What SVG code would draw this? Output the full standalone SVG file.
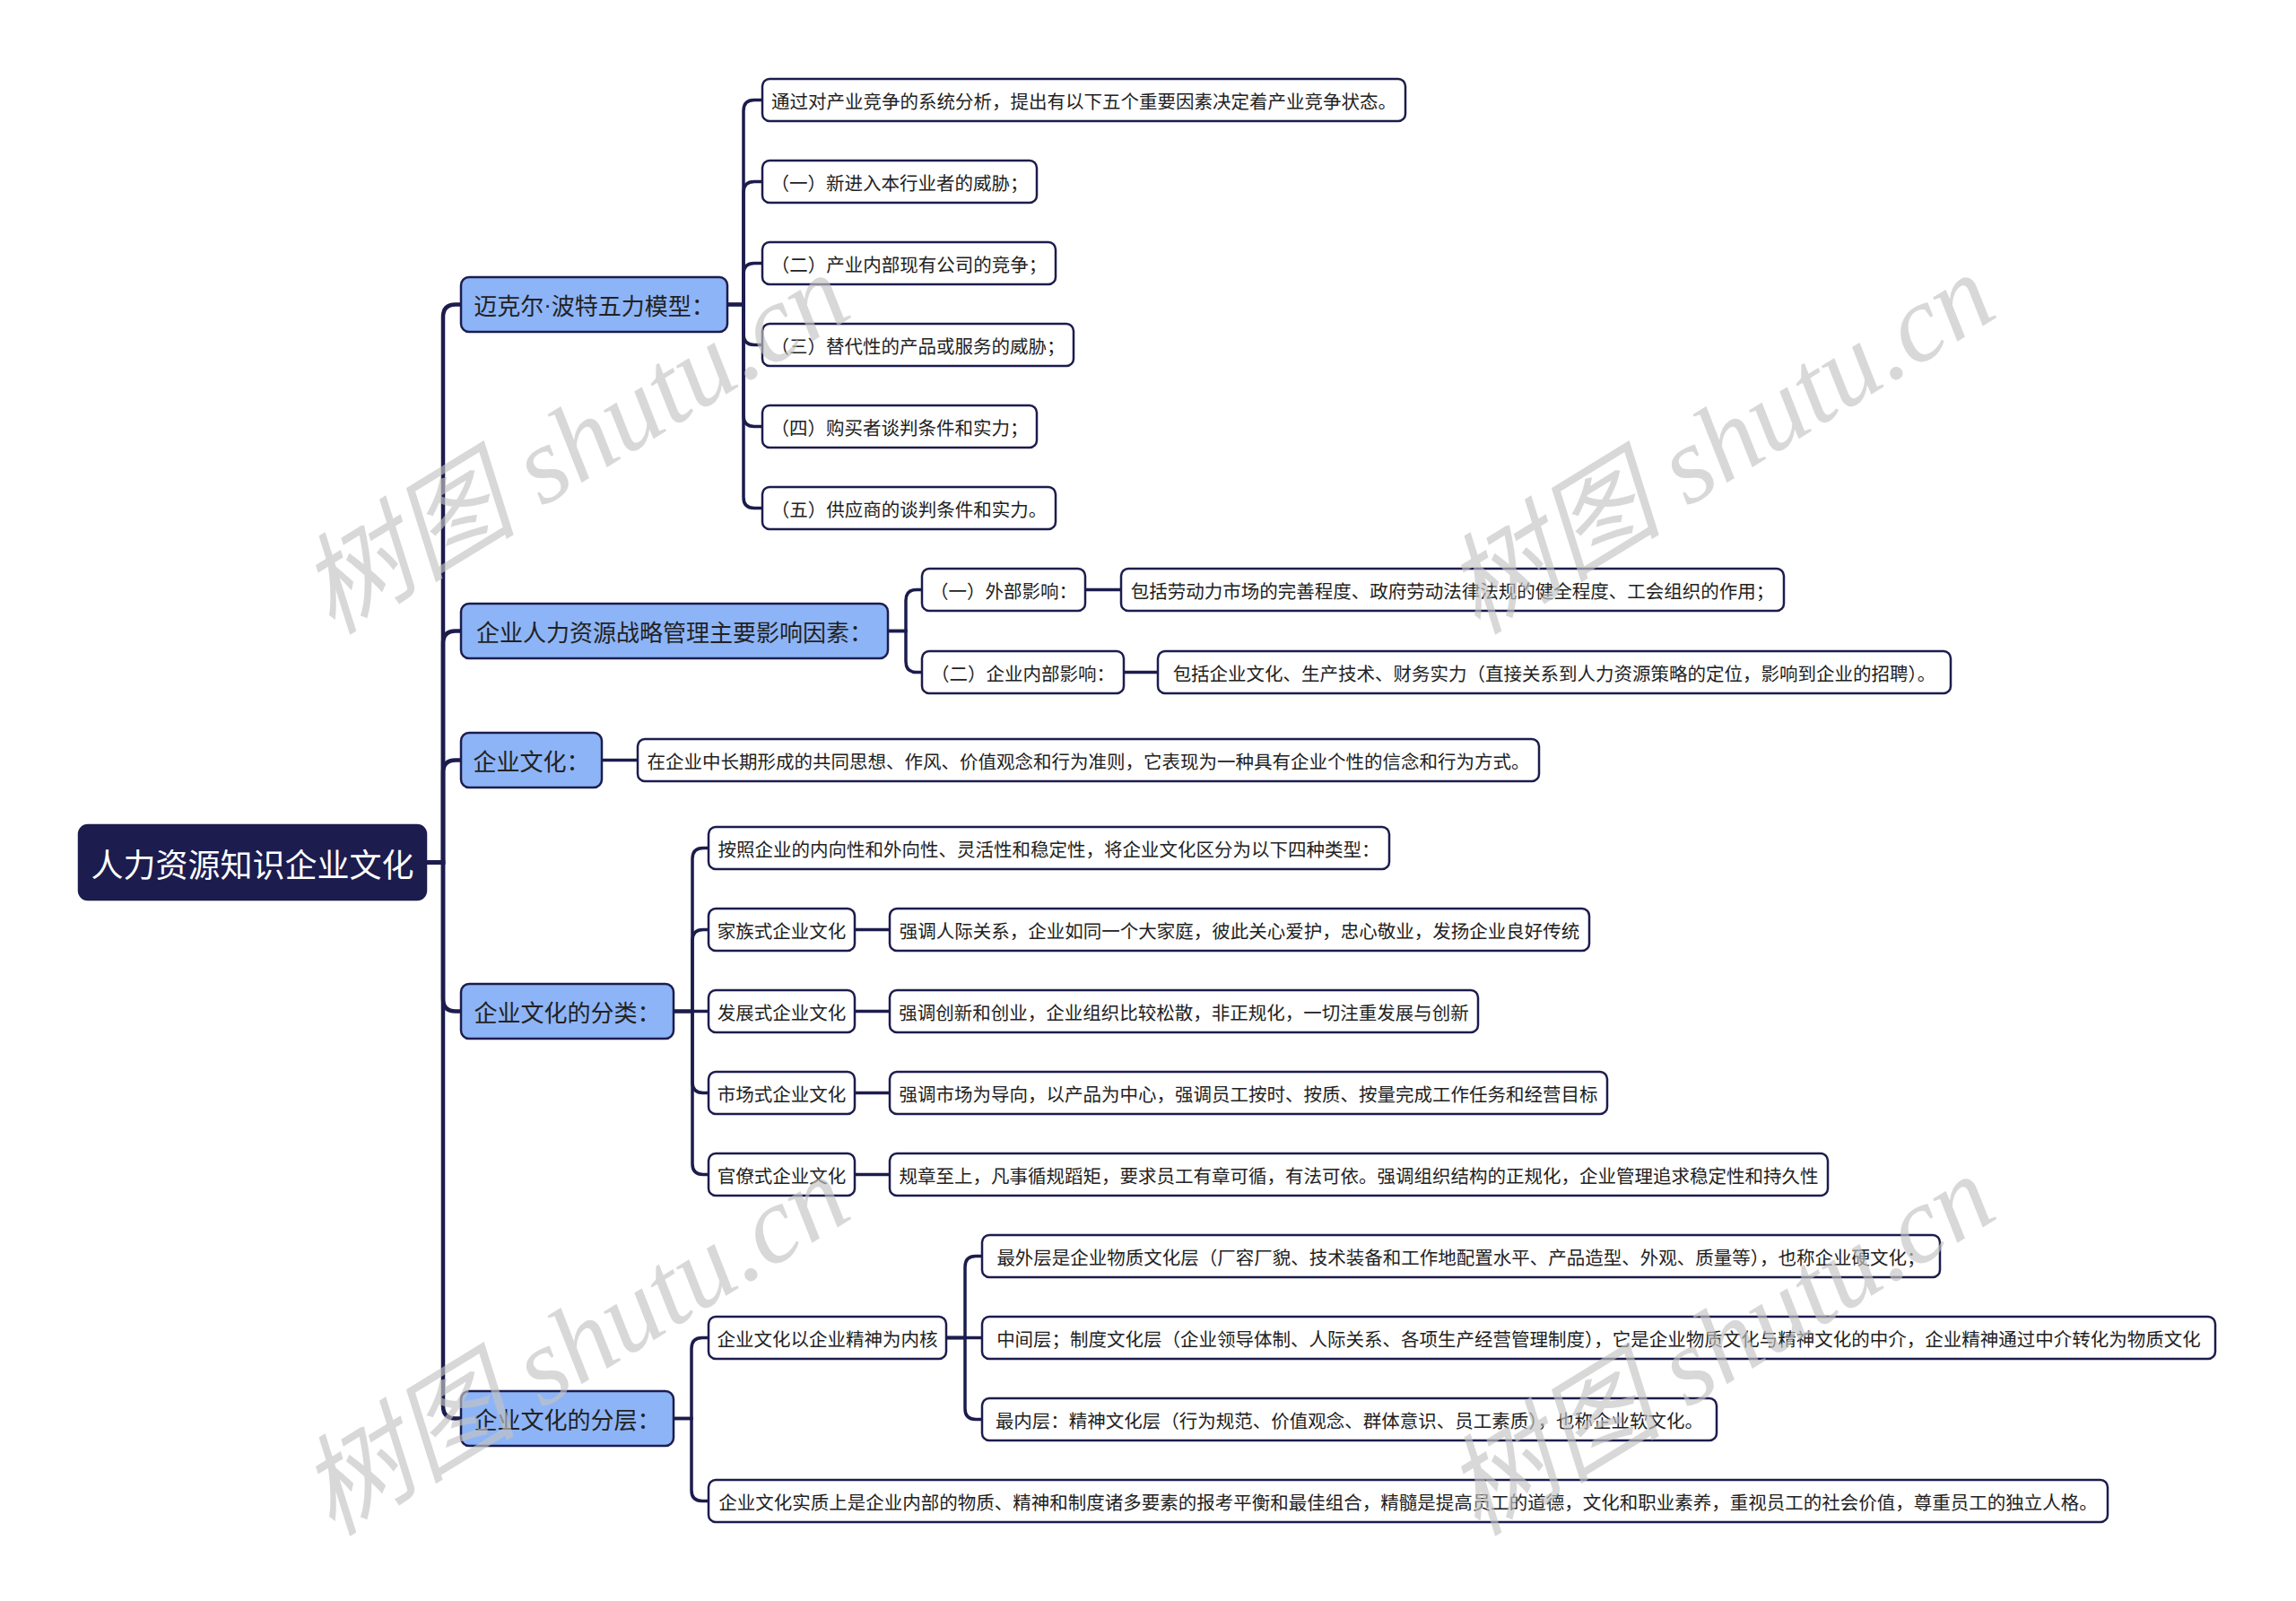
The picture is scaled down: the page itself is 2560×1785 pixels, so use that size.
<svg xmlns="http://www.w3.org/2000/svg" width="2560" height="1785" viewBox="0 0 2560 1785">
<style>
.bg{fill:#ffffff}
.root rect{fill:#1c1c4e;stroke:#1c1c4e;stroke-width:2.5}
.root text{fill:#ffffff;font-size:36px}
.l1 rect{fill:#8db4f7;stroke:#1c1c4e;stroke-width:2.5}
.l1 text{fill:#222222;font-size:26px}
.l2 rect{fill:#ffffff;stroke:#1c1c4e;stroke-width:2.5}
.l2 text{fill:#222222;font-size:20.5px}
text{font-family:"Noto Sans CJK SC","Noto Sans",sans-serif;text-anchor:middle;dominant-baseline:central}
.dot{font-family:"Liberation Sans",sans-serif}
.conn path{fill:none;stroke:#1c1c4e;stroke-width:3.5;stroke-linecap:round}
.conn .main{stroke-width:4.5}
.wm{fill:#c4c4c4;opacity:0.65;font-size:122px;font-style:italic;font-family:"Liberation Serif","Noto Sans CJK SC",serif;text-anchor:middle;dominant-baseline:alphabetic}
</style>
<rect class="bg" x="0" y="0" width="2560" height="1785"/>
<g id="connectors" class="conn">
<path class="main" d="M475 961.5 H494 V353.5 Q494 339.5 508 339.5 H514"/>
<path class="main" d="M475 961.5 H494 V717.5 Q494 703.5 508 703.5 H514"/>
<path class="main" d="M475 961.5 H494 V861.5 Q494 847.5 508 847.5 H514"/>
<path class="main" d="M475 961.5 H494 V1113.5 Q494 1127.5 508 1127.5 H514"/>
<path class="main" d="M475 961.5 H494 V1567.5 Q494 1581.5 508 1581.5 H514"/>
<path d="M811 339.5 H829 V123.5 Q829 111.5 841 111.5 H850"/>
<path d="M811 339.5 H829 V214.5 Q829 202.5 841 202.5 H850"/>
<path d="M811 339.5 H829 V305.5 Q829 293.5 841 293.5 H850"/>
<path d="M811 339.5 H829 V372.5 Q829 384.5 841 384.5 H850"/>
<path d="M811 339.5 H829 V463.5 Q829 475.5 841 475.5 H850"/>
<path d="M811 339.5 H829 V554.5 Q829 566.5 841 566.5 H850"/>
<path d="M989 703.5 H1010 V669.5 Q1010 657.5 1022 657.5 H1028"/>
<path d="M989 703.5 H1010 V737.5 Q1010 749.5 1022 749.5 H1028"/>
<path d="M1210 657.5 H1250"/>
<path d="M1253 749.5 H1291"/>
<path d="M671 847.5 H711"/>
<path d="M751 1127.5 H772 V957.5 Q772 945.5 784 945.5 H790"/>
<path d="M751 1127.5 H772 V1048.5 Q772 1036.5 784 1036.5 H790"/>
<path d="M751 1127.5 H790"/>
<path d="M751 1127.5 H772 V1206.5 Q772 1218.5 784 1218.5 H790"/>
<path d="M751 1127.5 H772 V1297.5 Q772 1309.5 784 1309.5 H790"/>
<path d="M953 1036.5 H992"/>
<path d="M953 1127.5 H992"/>
<path d="M953 1218.5 H992"/>
<path d="M953 1309.5 H992"/>
<path d="M751 1581.5 H771 V1503.5 Q771 1491.5 783 1491.5 H790"/>
<path d="M751 1581.5 H771 V1661.5 Q771 1673.5 783 1673.5 H790"/>
<path d="M1055 1491.5 H1076 V1412.5 Q1076 1400.5 1088 1400.5 H1095"/>
<path d="M1055 1491.5 H1095"/>
<path d="M1055 1491.5 H1076 V1570.5 Q1076 1582.5 1088 1582.5 H1095"/>
</g>
<g id="root" class="root"><rect x="88" y="920" width="387" height="83" rx="10"/><text x="281.5" y="961.5">人力资源知识企业文化</text></g>
<g id="n-porter" class="l1"><rect x="514" y="309" width="297" height="61" rx="9"/><text x="662.5" y="339.5">迈克尔<tspan class="dot">·</tspan>波特五力模型：</text></g>
<g id="n-factors" class="l1"><rect x="514" y="673" width="476" height="61" rx="9"/><text x="752" y="703.5">企业人力资源战略管理主要影响因素：</text></g>
<g id="n-culture" class="l1"><rect x="514" y="817" width="157" height="61" rx="9"/><text x="592.5" y="847.5">企业文化：</text></g>
<g id="n-types" class="l1"><rect x="514" y="1097" width="237" height="61" rx="9"/><text x="632.5" y="1127.5">企业文化的分类：</text></g>
<g id="n-layers" class="l1"><rect x="514" y="1551" width="237" height="61" rx="9"/><text x="632.5" y="1581.5">企业文化的分层：</text></g>

<g id="p0" class="l2"><rect x="850" y="88" width="717" height="47" rx="8"/><text x="1208.5" y="111.5">通过对产业竞争的系统分析，提出有以下五个重要因素决定着产业竞争状态。</text></g>
<g id="p1" class="l2"><rect x="850" y="179" width="306" height="47" rx="8"/><text x="1003" y="202.5">（一）新进入本行业者的威胁；</text></g>
<g id="p2" class="l2"><rect x="850" y="270" width="327" height="47" rx="8"/><text x="1013.5" y="293.5">（二）产业内部现有公司的竞争；</text></g>
<g id="p3" class="l2"><rect x="850" y="361" width="347" height="47" rx="8"/><text x="1023.5" y="384.5">（三）替代性的产品或服务的威胁；</text></g>
<g id="p4" class="l2"><rect x="850" y="452" width="306" height="47" rx="8"/><text x="1003" y="475.5">（四）购买者谈判条件和实力；</text></g>
<g id="p5" class="l2"><rect x="850" y="543" width="327" height="47" rx="8"/><text x="1013.5" y="566.5">（五）供应商的谈判条件和实力。</text></g>

<g id="f1" class="l2"><rect x="1028" y="634" width="182" height="47" rx="8"/><text x="1119" y="657.5">（一）外部影响：</text></g>
<g id="f1d" class="l2"><rect x="1250" y="634" width="739" height="47" rx="8"/><text x="1619.5" y="657.5">包括劳动力市场的完善程度、政府劳动法律法规的健全程度、工会组织的作用；</text></g>
<g id="f2" class="l2"><rect x="1028" y="726" width="225" height="47" rx="8"/><text x="1140.5" y="749.5">（二）企业内部影响：</text></g>
<g id="f2d" class="l2"><rect x="1291" y="726" width="884" height="47" rx="8"/><text x="1733" y="749.5">包括企业文化、生产技术、财务实力（直接关系到人力资源策略的定位，影响到企业的招聘）。</text></g>

<g id="c1" class="l2"><rect x="711" y="824" width="1005" height="47" rx="8"/><text x="1213.5" y="847.5">在企业中长期形成的共同思想、作风、价值观念和行为准则，它表现为一种具有企业个性的信念和行为方式。</text></g>

<g id="t0" class="l2"><rect x="790" y="922" width="759" height="47" rx="8"/><text x="1169.5" y="945.5">按照企业的内向性和外向性、灵活性和稳定性，将企业文化区分为以下四种类型：</text></g>
<g id="t1" class="l2"><rect x="790" y="1013" width="163" height="47" rx="8"/><text x="871.5" y="1036.5">家族式企业文化</text></g>
<g id="t1d" class="l2"><rect x="992" y="1013" width="780" height="47" rx="8"/><text x="1382" y="1036.5">强调人际关系，企业如同一个大家庭，彼此关心爱护，忠心敬业，发扬企业良好传统</text></g>
<g id="t2" class="l2"><rect x="790" y="1104" width="163" height="47" rx="8"/><text x="871.5" y="1127.5">发展式企业文化</text></g>
<g id="t2d" class="l2"><rect x="992" y="1104" width="656" height="47" rx="8"/><text x="1320" y="1127.5">强调创新和创业，企业组织比较松散，非正规化，一切注重发展与创新</text></g>
<g id="t3" class="l2"><rect x="790" y="1195" width="163" height="47" rx="8"/><text x="871.5" y="1218.5">市场式企业文化</text></g>
<g id="t3d" class="l2"><rect x="992" y="1195" width="800" height="47" rx="8"/><text x="1392" y="1218.5">强调市场为导向，以产品为中心，强调员工按时、按质、按量完成工作任务和经营目标</text></g>
<g id="t4" class="l2"><rect x="790" y="1286" width="163" height="47" rx="8"/><text x="871.5" y="1309.5">官僚式企业文化</text></g>
<g id="t4d" class="l2"><rect x="992" y="1286" width="1046" height="47" rx="8"/><text x="1515" y="1309.5">规章至上，凡事循规蹈矩，要求员工有章可循，有法可依。强调组织结构的正规化，企业管理追求稳定性和持久性</text></g>

<g id="l1" class="l2"><rect x="790" y="1468" width="265" height="47" rx="8"/><text x="922.5" y="1491.5">企业文化以企业精神为内核</text></g>
<g id="l1a" class="l2"><rect x="1095" y="1377" width="1068" height="47" rx="8"/><text x="1629" y="1400.5">最外层是企业物质文化层（厂容厂貌、技术装备和工作地配置水平、产品造型、外观、质量等），也称企业硬文化；</text></g>
<g id="l1b" class="l2"><rect x="1095" y="1468" width="1375" height="47" rx="8"/><text x="1782.5" y="1491.5">中间层；制度文化层（企业领导体制、人际关系、各项生产经营管理制度），它是企业物质文化与精神文化的中介，企业精神通过中介转化为物质文化</text></g>
<g id="l1c" class="l2"><rect x="1095" y="1559" width="819" height="47" rx="8"/><text x="1504.5" y="1582.5">最内层：精神文化层（行为规范、价值观念、群体意识、员工素质），也称企业软文化。</text></g>
<g id="l2" class="l2"><rect x="790" y="1650" width="1560" height="47" rx="8"/><text x="1570" y="1673.5">企业文化实质上是企业内部的物质、精神和制度诸多要素的报考平衡和最佳组合，精髓是提高员工的道德，文化和职业素养，重视员工的社会价值，尊重员工的独立人格。</text></g>

<g id="watermarks">
<text class="wm" transform="translate(662 530) rotate(-31.5)">树图 shutu.cn</text>
<text class="wm" transform="translate(1939 530) rotate(-31.5)">树图 shutu.cn</text>
<text class="wm" transform="translate(662 1535) rotate(-31.5)">树图 shutu.cn</text>
<text class="wm" transform="translate(1939 1535) rotate(-31.5)">树图 shutu.cn</text>
</g>
</svg>
